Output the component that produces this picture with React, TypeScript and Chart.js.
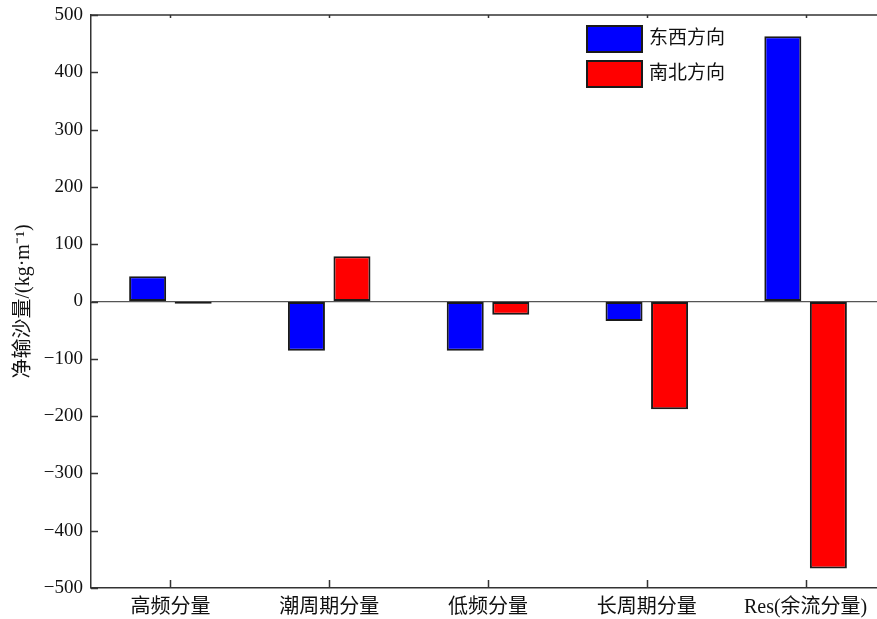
import React, { useEffect, useRef } from "react";
import { Chart, registerables } from "chart.js";

Chart.register(...registerables);

const categories = ["高频分量", "潮周期分量", "低频分量", "长周期分量", "Res(余流分量)"];
const eastWest = [44, -86, -86, -34, 463];
const northSouth = [-4, 79, -23, -188, -466];
const seriesNames = ["东西方向", "南北方向"];
const seriesColors = ["#0000ff", "#ff0000"];
const yTicks = [-500, -400, -300, -200, -100, 0, 100, 200, 300, 400, 500];

const FONT = '"Liberation Serif", "Noto Sans CJK SC", serif';
const AXIS = "#333333";
const EDGE = "#1a1a1a";

// Box frame, inward tick marks and the in-plot legend
const framePlugin = {
  id: "frame",
  afterDraw(chart: any) {
    const { ctx, chartArea: a, scales } = chart;
    const x = scales.x;
    const y = scales.y;
    ctx.save();
    ctx.strokeStyle = AXIS;
    ctx.lineWidth = 1.5;
    ctx.beginPath();
    ctx.moveTo(a.left, a.top);
    ctx.lineTo(a.right, a.top);
    ctx.stroke();

    ctx.lineWidth = 1.5;
    ctx.beginPath();
    yTicks.forEach((v) => {
      const py = Math.round(y.getPixelForValue(v)) + 0.5;
      ctx.moveTo(a.left, py);
      ctx.lineTo(a.left + 7, py);
    });
    categories.forEach((_, i) => {
      const px = Math.round(x.getPixelForValue(i)) + 0.5;
      ctx.moveTo(px, a.bottom);
      ctx.lineTo(px, a.bottom - 8);
      ctx.moveTo(px, a.top);
      ctx.lineTo(px, a.top + 3);
    });
    ctx.stroke();

    // legend
    const lx = a.left + 496;
    const ly = a.top + 11;
    chart.data.datasets.forEach((ds: any, i: number) => {
      const top = ly + i * 35;
      ctx.fillStyle = ds.backgroundColor;
      ctx.fillRect(lx, top, 55, 26);
      ctx.strokeStyle = EDGE;
      ctx.lineWidth = 2;
      ctx.strokeRect(lx, top, 55, 26);
      ctx.fillStyle = "#111";
      ctx.font = `19px ${FONT}`;
      ctx.textBaseline = "middle";
      ctx.textAlign = "left";
      ctx.fillText(ds.label, lx + 62, top + 13);
    });
    ctx.restore();
  },
};

export default function App() {
  const ref = useRef<HTMLCanvasElement>(null);

  useEffect(() => {
    if (!ref.current) return;
    const chart = new Chart(ref.current, {
      type: "bar",
      data: {
        labels: categories,
        datasets: [
          {
            label: seriesNames[0],
            data: eastWest,
            backgroundColor: seriesColors[0],
            borderColor: EDGE,
            borderWidth: 2,
            borderSkipped: false,
          },
          {
            label: seriesNames[1],
            data: northSouth,
            backgroundColor: seriesColors[1],
            borderColor: EDGE,
            borderWidth: 2,
            borderSkipped: false,
          },
        ],
      },
      options: {
        responsive: false,
        animation: false,
        datasets: {
          bar: { categoryPercentage: 0.5734, barPercentage: 0.813 },
        },
        layout: { padding: { top: 15, right: 0, left: 0, bottom: 0 } },
        plugins: {
          legend: { display: false },
          tooltip: { enabled: false },
        },
        scales: {
          x: {
            grid: { display: false, drawTicks: false },
            border: { display: true, color: AXIS, width: 1.5 },
            ticks: {
              color: "#111",
              padding: 8,
              maxRotation: 0,
              autoSkip: false,
              font: { family: FONT, size: 20 },
            },
            afterFit: (s: any) => {
              s.height = 31;
              s.paddingLeft = 0;
              s.paddingRight = 0;
            },
          },
          y: {
            min: -500,
            max: 500,
            grid: {
              drawTicks: false,
              color: (c: any) => (c.tick && c.tick.value === 0 ? "#555" : "rgba(0,0,0,0)"),
              lineWidth: 1.2,
            },
            border: { display: true, color: AXIS, width: 1.5 },
            afterBuildTicks: (s: any) => {
              s.ticks = yTicks.map((v) => ({ value: v }));
            },
            ticks: {
              color: "#111",
              padding: 8,
              font: { family: FONT, size: 19 },
              callback: (v: any) => (Number(v) < 0 ? "\u2212" + Math.abs(Number(v)) : String(v)),
            },
            title: {
              display: true,
              text: "净输沙量/(kg·m⁻¹)",
              color: "#111",
              font: { family: FONT, size: 20 },
              padding: { top: 12, bottom: 0 },
            },
            afterFit: (s: any) => {
              s.width = 91;
              s.paddingTop = 0;
              s.paddingBottom = 0;
            },
          },
        },
      },
      plugins: [framePlugin],
    });
    return () => chart.destroy();
  }, []);

  return (
    <div
      style={{
        position: "fixed",
        left: 0,
        top: 0,
        width: 877,
        height: 619,
        overflow: "hidden",
        background: "#fff",
      }}
    >
      <canvas ref={ref} width={885} height={619} style={{ display: "block" }} />
    </div>
  );
}
